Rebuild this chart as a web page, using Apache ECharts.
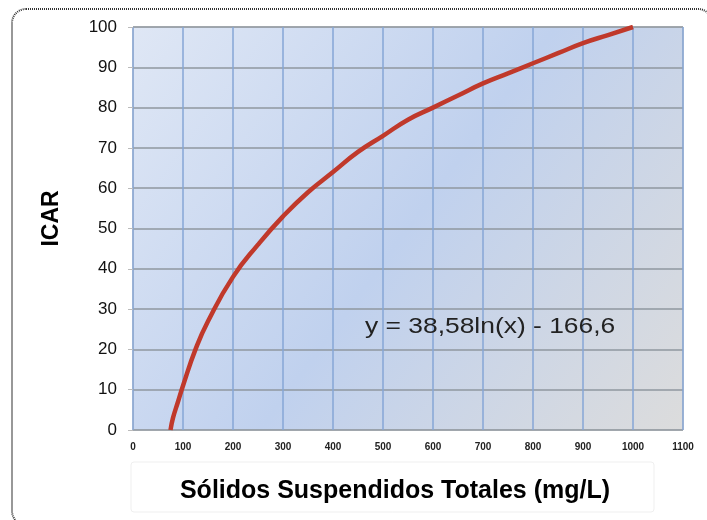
<!DOCTYPE html>
<html>
<head>
<meta charset="utf-8">
<script src="https://cdn.jsdelivr.net/npm/echarts@6/dist/echarts.min.js"></script>
<style>
    html, body { margin: 0; padding: 0; background: #fff; }
    #icarChart { width: 707px; height: 520px; }
</style>
</head>
<body>
<div id="icarChart"></div>
<script>
    // valores (SST mg/L, ICAR)
    var sstValues  = [75, 80, 90, 100, 125, 150, 200, 250, 300, 350, 400, 450, 500, 550, 600, 650, 700, 750, 800, 850, 900, 950, 1000];
    var icarValues = [0, 3, 7, 11, 20, 27, 38, 46, 53, 59, 64, 69, 73, 77, 80, 83, 86, 88.5, 91, 93.5, 96, 98, 100];
    var xTicks = [0, 100, 200, 300, 400, 500, 600, 700, 800, 900, 1000, 1100];
    var yTicks = [0, 10, 20, 30, 40, 50, 60, 70, 80, 90, 100];
    var equationText = 'y = 38,58ln(x) - 166,6';

    var curveData = [];
    for (var i = 0; i < sstValues.length; i++) {
        curveData.push([sstValues[i], icarValues[i]]);
    }

    var fontName = '"Liberation Sans", Arial, sans-serif';
    var chart = echarts.init(document.getElementById('icarChart'), null, { renderer: 'canvas' });

    var option = {
        animation: false,
        backgroundColor: '#fff',
        grid: {
            left: 133, right: 24, top: 27, bottom: 90,
            show: true,
            borderColor: '#b0b0b0',
            borderWidth: 1,
            backgroundColor: new echarts.graphic.LinearGradient(0, 0, 1, 1, [
                { offset: 0, color: '#dfe7f5' },
                { offset: 0.5, color: '#c0d1ee' },
                { offset: 1, color: '#dcdcdc' }
            ])
        },
        graphic: [
            {   // marco exterior
                type: 'rect', z: -1,
                shape: { x: 12, y: 9, width: 700, height: 516, r: 14 },
                style: { fill: 'none', stroke: '#333', lineWidth: 2, lineDash: [1, 1] }
            },
            {   // caja del título del eje x
                type: 'rect', z: -1,
                shape: { x: 131, y: 462, width: 523, height: 50, r: 3 },
                style: { fill: '#fff', stroke: '#efefef', lineWidth: 1 }
            },
            {   // ecuación de ajuste
                type: 'text', z: 10,
                x: 365, y: 316, scaleX: 1.2,
                style: { text: equationText, fill: '#222', font: '22px ' + fontName }
            }
        ],
        xAxis: {
            type: 'value',
            min: 0, max: 1100, interval: 100,
            name: 'Sólidos Suspendidos Totales (mg/L)',
            nameLocation: 'middle',
            nameGap: 49,
            nameTextStyle: { fontSize: 25, fontWeight: 'bold', color: '#000', fontFamily: fontName, padding: [0, 26, 0, 0] },
            axisLine: { show: false },
            axisTick: { show: false },
            axisLabel: {
                fontSize: 10, fontWeight: 'bold', color: '#222', margin: 12,
                fontFamily: fontName,
                formatter: function (v) { return xTicks.indexOf(v) >= 0 ? String(v) : ''; }
            },
            splitLine: { show: true, lineStyle: { color: '#86a6d6', width: 1.5 } }
        },
        yAxis: {
            type: 'value',
            min: 0, max: 100, interval: 10,
            name: 'ICAR',
            nameLocation: 'middle',
            nameGap: 70,
            nameRotate: 90,
            nameTextStyle: { fontSize: 23, fontWeight: 'bold', color: '#000', fontFamily: fontName, padding: [0, 0, 0, 20] },
            axisLine: { show: false },
            axisTick: { show: true, length: 5, lineStyle: { color: '#bbb' } },
            axisLabel: {
                fontSize: 17, color: '#111', margin: 16,
                fontFamily: fontName,
                formatter: function (v) { return yTicks.indexOf(v) >= 0 ? String(v) : ''; }
            },
            splitLine: { show: true, lineStyle: { color: '#8f979f', width: 1.5 } }
        },
        series: [{
            type: 'line',
            data: curveData,
            smooth: true,
            showSymbol: false,
            lineStyle: { color: '#c0392b', width: 4.5 },
            z: 5
        }]
    };

    chart.setOption(option);
</script>
</body>
</html>
